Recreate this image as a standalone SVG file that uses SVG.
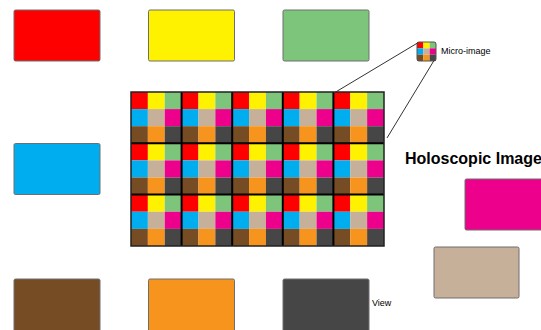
<svg xmlns="http://www.w3.org/2000/svg" xmlns:xlink="http://www.w3.org/1999/xlink" width="541" height="330" viewBox="0 0 541 330">
<style>
.view{stroke:#6e6e6e;stroke-width:1}
.lbl{font-family:"Liberation Sans",Arial,sans-serif;fill:#000}
.sep{stroke:#000;stroke-width:2}
.conn{stroke:#333;stroke-width:1;fill:none}
</style>
<defs>
<symbol id="micro" viewBox="0 0 3 3" preserveAspectRatio="none">
<rect x="0" y="0" width="1" height="1" fill="#FF0000"/>
<rect x="1" y="0" width="1" height="1" fill="#FFF200"/>
<rect x="2" y="0" width="1" height="1" fill="#7DC57A"/>
<rect x="0" y="1" width="1" height="1" fill="#00AEEF"/>
<rect x="1" y="1" width="1" height="1" fill="#C7B099"/>
<rect x="2" y="1" width="1" height="1" fill="#EC008C"/>
<rect x="0" y="2" width="1" height="1" fill="#754C24"/>
<rect x="1" y="2" width="1" height="1" fill="#F7941D"/>
<rect x="2" y="2" width="1" height="1" fill="#464646"/>
</symbol>
</defs>
<rect width="541" height="330" fill="#fff"/>
<g id="view-red"><rect class="view" x="14" y="10" width="86" height="51" rx="1.5" fill="#FF0000"/></g>
<g id="view-yellow"><rect class="view" x="148.5" y="10" width="86" height="51" rx="1.5" fill="#FFF200"/></g>
<g id="view-green"><rect class="view" x="283" y="10" width="86" height="51" rx="1.5" fill="#7DC57A"/></g>
<g id="view-blue"><rect class="view" x="14" y="143.5" width="86" height="51" rx="1.5" fill="#00AEEF"/></g>
<g id="view-magenta"><rect class="view" x="465" y="179" width="86" height="51" rx="1.5" fill="#EC008C"/></g>
<g id="view-tan"><rect class="view" x="434" y="247" width="85" height="51" rx="1.5" fill="#C7B099"/></g>
<g id="view-brown"><rect class="view" x="14" y="279" width="86" height="60" rx="1.5" fill="#754C24"/></g>
<g id="view-orange"><rect class="view" x="148.5" y="279" width="86" height="60" rx="1.5" fill="#F7941D"/></g>
<g id="view-grey"><rect class="view" x="283" y="279" width="86" height="60" rx="1.5" fill="#464646"/><text class="lbl" x="372" y="306" font-size="9">View</text></g>
<g id="holoscopic-image">
<use xlink:href="#micro" x="131" y="92" width="50.6" height="51.3"/>
<use xlink:href="#micro" x="181.6" y="92" width="50.6" height="51.3"/>
<use xlink:href="#micro" x="232.2" y="92" width="50.6" height="51.3"/>
<use xlink:href="#micro" x="282.8" y="92" width="50.6" height="51.3"/>
<use xlink:href="#micro" x="333.4" y="92" width="50.6" height="51.3"/>
<use xlink:href="#micro" x="131" y="143.3" width="50.6" height="51.3"/>
<use xlink:href="#micro" x="181.6" y="143.3" width="50.6" height="51.3"/>
<use xlink:href="#micro" x="232.2" y="143.3" width="50.6" height="51.3"/>
<use xlink:href="#micro" x="282.8" y="143.3" width="50.6" height="51.3"/>
<use xlink:href="#micro" x="333.4" y="143.3" width="50.6" height="51.3"/>
<use xlink:href="#micro" x="131" y="194.6" width="50.6" height="51.4"/>
<use xlink:href="#micro" x="181.6" y="194.6" width="50.6" height="51.4"/>
<use xlink:href="#micro" x="232.2" y="194.6" width="50.6" height="51.4"/>
<use xlink:href="#micro" x="282.8" y="194.6" width="50.6" height="51.4"/>
<use xlink:href="#micro" x="333.4" y="194.6" width="50.6" height="51.4"/>
<line class="sep" x1="181.6" y1="92" x2="181.6" y2="246"/>
<line class="sep" x1="232.2" y1="92" x2="232.2" y2="246"/>
<line class="sep" x1="282.8" y1="92" x2="282.8" y2="246"/>
<line class="sep" x1="333.4" y1="92" x2="333.4" y2="246"/>
<line class="sep" x1="131" y1="143.3" x2="384" y2="143.3"/>
<line class="sep" x1="131" y1="194.6" x2="384" y2="194.6"/>
<rect x="131" y="92" width="253" height="154" fill="none" stroke="#222" stroke-width="1.5"/>
<text class="lbl" x="405" y="163.5" font-size="16" font-weight="bold">Holoscopic Image</text>
</g>
<g id="micro-image">
<use xlink:href="#micro" x="417" y="42" width="19" height="19"/>
<rect x="417" y="42" width="19" height="19" rx="2" fill="none" stroke="#555" stroke-width="1"/>
<text class="lbl" x="441" y="54" font-size="9">Micro-image</text>
</g>
<g id="connectors">
<line class="conn" x1="417.5" y1="43" x2="334" y2="93"/>
<line class="conn" x1="434" y1="60.5" x2="387" y2="138"/>
</g>
</svg>
